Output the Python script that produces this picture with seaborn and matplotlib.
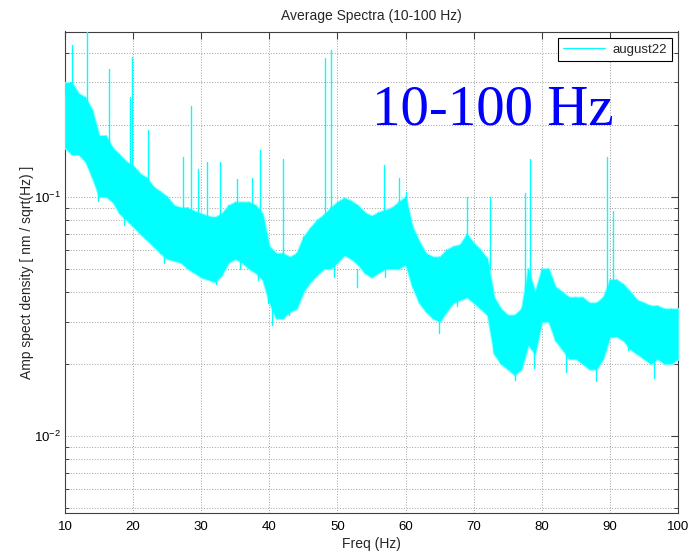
import numpy as np
import pandas as pd
import matplotlib
matplotlib.use("Agg")
import matplotlib.pyplot as plt
import seaborn as sns
from matplotlib.ticker import LogLocator, NullFormatter, FixedLocator

# ---- data (envelope of the noisy spectrum) ----
freq = list(range(10, 101))
upper = [0.30, 0.30, 0.27, 0.26, 0.23, 0.18, 0.18, 0.16, 0.15, 0.14,
         0.135, 0.125, 0.12, 0.11, 0.105, 0.10, 0.092, 0.09, 0.09, 0.087,
         0.085, 0.083, 0.082, 0.085, 0.092, 0.095, 0.095, 0.095, 0.092, 0.085,
         0.062, 0.058, 0.058, 0.056, 0.058, 0.068, 0.074, 0.080, 0.084, 0.090,
         0.095, 0.099, 0.096, 0.092, 0.086, 0.083, 0.086, 0.088, 0.090, 0.095,
         0.100, 0.075, 0.065, 0.058, 0.056, 0.056, 0.060, 0.062, 0.063, 0.070,
         0.064, 0.060, 0.055, 0.038, 0.034, 0.032, 0.032, 0.034, 0.050, 0.040,
         0.050, 0.050, 0.042, 0.040, 0.038, 0.038, 0.038, 0.036, 0.036, 0.038,
         0.045, 0.045, 0.043, 0.040, 0.037, 0.036, 0.035, 0.035, 0.034, 0.034,
         0.034]
lower = [0.16, 0.15, 0.15, 0.14, 0.12, 0.10, 0.10, 0.095, 0.085, 0.08,
         0.075, 0.07, 0.066, 0.062, 0.058, 0.055, 0.054, 0.053, 0.050, 0.048,
         0.046, 0.045, 0.044, 0.047, 0.053, 0.055, 0.053, 0.050, 0.048, 0.045,
         0.036, 0.031, 0.031, 0.033, 0.034, 0.040, 0.044, 0.047, 0.050, 0.050,
         0.053, 0.057, 0.055, 0.052, 0.048, 0.046, 0.048, 0.050, 0.050, 0.050,
         0.052, 0.042, 0.036, 0.033, 0.031, 0.030, 0.033, 0.036, 0.037, 0.038,
         0.036, 0.034, 0.032, 0.022, 0.020, 0.019, 0.018, 0.019, 0.024, 0.022,
         0.030, 0.030, 0.025, 0.023, 0.021, 0.021, 0.020, 0.019, 0.019, 0.021,
         0.026, 0.026, 0.025, 0.023, 0.022, 0.021, 0.020, 0.021, 0.020, 0.020,
         0.021]

# narrow spectral lines: frequency, base and top value
spike_freq = [10.7, 11.1, 13.2, 16.5, 19.6, 19.8, 22.2, 27.3, 28.5, 29.6,
              30.9, 32.8, 35.3, 37.4, 38.7, 42.0, 48.1, 49.1, 56.9, 59.0,
              60.1, 69.0, 72.4, 77.5, 78.2, 89.6, 90.4]
spike_base = [0.25, 0.25, 0.22, 0.16, 0.13, 0.13, 0.11, 0.085, 0.085, 0.08,
              0.08, 0.08, 0.09, 0.09, 0.08, 0.055, 0.08, 0.085, 0.085, 0.09,
              0.09, 0.065, 0.05, 0.035, 0.045, 0.035, 0.045]
spike_top = [0.30, 0.43, 0.60, 0.34, 0.26, 0.385, 0.19, 0.147, 0.24, 0.13,
             0.14, 0.14, 0.118, 0.12, 0.156, 0.144, 0.38, 0.41, 0.136, 0.12,
             0.105, 0.10, 0.10, 0.104, 0.144, 0.147, 0.087]

# downward excursions below the band: frequency, band value, lowest value
dip_freq = [14.9, 18.7, 24.6, 32.1, 35.7, 38.3, 39.8, 40.4, 42.9, 49.5,
            52.9, 57.0, 64.9, 67.5, 72.8, 76.0, 78.9, 83.5, 87.9, 92.6,
            96.5, 99.7]
dip_base = [0.11, 0.09, 0.06, 0.05, 0.06, 0.055, 0.045, 0.035, 0.038, 0.055,
            0.05, 0.055, 0.035, 0.04, 0.035, 0.022, 0.025, 0.023, 0.022, 0.027,
            0.022, 0.024]
dip_low = [0.096, 0.076, 0.053, 0.043, 0.05, 0.045, 0.036, 0.029, 0.032, 0.046,
           0.042, 0.046, 0.027, 0.035, 0.029, 0.0171, 0.0193, 0.0185, 0.017, 0.0228,
           0.0175, 0.022]

legend_label = "august22"
title = "Average Spectra (10-100 Hz)"
xlabel = "Freq (Hz)"
ylabel = "Amp spect density [ nm / sqrt(Hz) ]"
annotation = "10-100 Hz"
xticks = [10, 20, 30, 40, 50, 60, 70, 80, 90, 100]

# ---- styling ----
sns.set_style("white")
plt.rcParams['font.family'] = ['Liberation Sans', 'DejaVu Sans']
plt.rcParams['mathtext.fontset'] = 'custom'
plt.rcParams['mathtext.rm'] = 'Liberation Sans'
plt.rcParams['mathtext.it'] = 'Liberation Sans'

CYAN = (0.0, 1.0, 1.0)
LIGHT_CYAN = (0.55, 1.0, 1.0)

fig = plt.figure(figsize=(6.96, 5.53), dpi=100)
ax = fig.add_axes([65 / 696, 40 / 553, 613 / 696, 481.5 / 553])

band = pd.DataFrame({"freq": freq, "upper": upper, "lower": lower})
ax.fill_between(band["freq"], band["lower"], band["upper"], color=CYAN,
                linewidth=1.6, edgecolor=LIGHT_CYAN, zorder=3)
ax.fill_between(band["freq"], band["lower"], band["upper"], color=CYAN,
                linewidth=0, zorder=3)

# zigzag trace through the envelope (carries the legend entry)
zz = pd.DataFrame({
    "freq": np.repeat(freq, 2),
    "amp": np.ravel(np.column_stack([lower, upper])),
})
sns.lineplot(data=zz, x="freq", y="amp", sort=False, estimator=None,
             color=CYAN, linewidth=0.6, ax=ax, zorder=3, label=legend_label)

rows = []
for i, (f, b, t) in enumerate(zip(spike_freq, spike_base, spike_top)):
    rows.append({"freq": f, "amp": b, "id": i})
    rows.append({"freq": f, "amp": t, "id": i})
n = len(spike_freq)
for j, (f, b, t) in enumerate(zip(dip_freq, dip_base, dip_low)):
    rows.append({"freq": f, "amp": b, "id": n + j})
    rows.append({"freq": f, "amp": t, "id": n + j})
spk = pd.DataFrame(rows)
sns.lineplot(data=spk, x="freq", y="amp", units="id", estimator=None,
             sort=False, color=CYAN, linewidth=1.0, ax=ax, zorder=3,
             legend=False)

ax.set_yscale("log")
ax.set_xlim(10, 100)
ax.set_ylim(0.00476, 0.49)
ax.xaxis.set_major_locator(FixedLocator(xticks))
ax.yaxis.set_major_locator(LogLocator(base=10, numticks=10))
ax.yaxis.set_minor_locator(LogLocator(base=10, subs=np.arange(2, 10), numticks=20))
ax.yaxis.set_minor_formatter(NullFormatter())

grid_kw = dict(color='0.5', linestyle=(0, (1, 2.2)), linewidth=0.6)
ax.grid(True, which='major', axis='both', **grid_kw)
ax.grid(True, which='minor', axis='y', **grid_kw)
ax.set_axisbelow(True)

for s in ax.spines.values():
    s.set_visible(True)
    s.set_color('0.25')
    s.set_linewidth(0.8)

ax.tick_params(axis='both', which='major', direction='in', length=5,
               width=0.8, color='0.25', top=True, right=True,
               labelsize=9.5, labelcolor='black')
ax.tick_params(axis='x', which='major', pad=6)
ax.tick_params(axis='y', which='major', pad=3)
ax.tick_params(axis='y', which='minor', direction='in', length=3,
               width=0.7, color='0.25', left=True, right=True)

ax.set_title(title, fontsize=10, pad=8)
ax.set_xlabel(xlabel, fontsize=10)
ax.set_ylabel(ylabel, fontsize=10)
ax.xaxis.set_label_coords(0.5, -0.05)
ax.yaxis.set_label_coords(-0.051, 0.5)

leg = ax.legend(loc='upper right', bbox_to_anchor=(0.990, 0.9865),
                borderaxespad=0, fontsize=9.5, frameon=True, fancybox=False,
                framealpha=1, edgecolor='black', handlelength=3.2,
                handletextpad=0.5, borderpad=0.4)
leg.get_frame().set_linewidth(0.8)
for h in leg.get_lines():
    h.set_linewidth(0.8)

ax.text(0.5008, 0.806, annotation, transform=ax.transAxes, ha='left',
        va='baseline', fontsize=41, color=(0, 0, 1),
        family=['Liberation Serif', 'DejaVu Serif'], zorder=5)

fig.savefig("out.png", dpi=100)
